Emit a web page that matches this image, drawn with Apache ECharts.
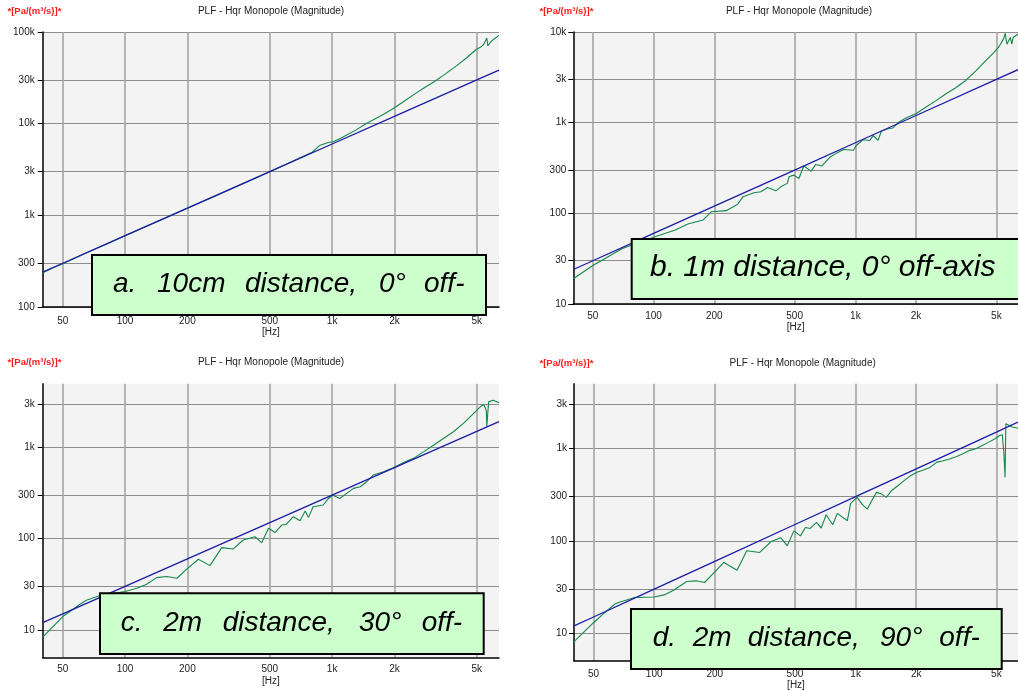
<!DOCTYPE html>
<html><head><meta charset="utf-8">
<script src="https://cdn.jsdelivr.net/npm/echarts@6/dist/echarts.min.js"></script>
<style>html,body{margin:0;padding:0;background:#fff}#c{width:1018px;height:691px}</style>
</head><body><div id="c"></div>
<script>
// ---------- data ----------
const xTickValues = [50, 100, 200, 500, 1000, 2000, 5000];
const xTickLabels = ['50', '100', '200', '500', '1k', '2k', '5k'];
const yTicksA = [100, 300, 1000, 3000, 10000, 30000, 100000];
const yLabelsA = ['100', '300', '1k', '3k', '10k', '30k', '100k'];
const yTicksB = [10, 30, 100, 300, 1000, 3000, 10000];
const yLabelsB = ['10', '30', '100', '300', '1k', '3k', '10k'];
const yTicksCD = [10, 30, 100, 300, 1000, 3000];
const yLabelsCD = ['10', '30', '100', '300', '1k', '3k'];

const blueFreq = [40, 50, 100, 200, 500, 1000, 2000, 5000, 6400];
const blueA = [240, 300, 600, 1200, 3000, 6000, 12000, 30000, 38400];
const blueB = [24, 30, 60, 120, 300, 600, 1200, 3000, 3840];
const blueC = [12, 15, 30, 60, 150, 300, 600, 1500, 1920];
const blueD = [12, 15, 30, 60, 150, 300, 600, 1500, 1920];

const freqA = [40,45,50,60,70,80,100,120,150,200,250,300,400,500,600,700,800,870,950,1010,1100,1200,1300,1470,1600,1800,2000,2200,2500,2800,3100,3500,4000,4500,4960,5200,5390,5480,5590,5650,5700,5900,6100,6400];
const greenA = [236,268,297,358,418,478,598,718,895,1195,1490,1790,2390,2980,3600,4250,4880,5770,6200,6360,6950,7700,8500,10100,11200,12900,14900,17200,21000,24800,28500,34500,43000,53000,64400,68000,72800,70000,86000,71000,74000,80000,85000,92000];

const freqB = [40,50,70,100,128,148,176,193,229,261,277,315,340,367,404,427,460,469,496,525,555,604,635,683,751,810,873,978,1013,1092,1180,1225,1297,1347,1452,1536,1654,1781,1995,2243,2513,2812,3149,3523,3945,4416,4852,5130,5430,5530,5640,5860,5965,6050,6400];
const greenB = [19,26.6,41,54.6,65.6,76.4,84.5,104,107,126,152,169,173,193,177,196,214,253,264,242,333,292,345,333,419,464,505,497,563,649,637,722,637,810,857,875,1025,1126,1253,1488,1751,2087,2426,2920,3694,4802,5924,6793,8393,9660,7340,8700,7340,8700,9500];

const freqC = [40,50,60.6,65,75.7,100,114,127,142,159,178,199,226,257,293,333,372,424,457,493,531,571,602,649,700,741,769,810,906,961,1010,1090,1176,1268,1366,1472,1584,1770,1980,2212,2472,2762,3086,3448,3853,4306,4643,5193,5390,5500,5560,5590,5700,6000,6400];
const greenC = [8.3,14,19.1,21.1,23.8,26.3,28.6,31.6,37.4,38.4,36.8,46.6,59.4,50.6,79.7,77.1,96.7,105,90.4,130,117,141,144,174,157,201,171,224,234,276,300,276,314,356,371,421,499,541,599,685,759,895,1058,1254,1487,1834,2163,2787,2955,2700,2500,1690,3160,3300,3100];

const freqD = [39.8,50,55.2,63.6,66.5,80,100,112,125,145,162,178,195,222,258,288,334,381,425,458,494,532,563,595,640,675,714,770,811,910,945,1018,1076,1142,1201,1271,1346,1420,1505,1620,1742,1875,2016,2171,2338,2520,2719,2926,3150,3390,3650,3930,4230,4555,4903,5193,5350,5450,5520,5570,6000,6400];
const greenD = [8,13,15.8,20.6,21.5,24.4,24.7,26,29.2,36.3,36.9,35.4,43.5,58.3,48.1,77.9,74.8,98.3,108,88.3,128,113,139,136,158,137,191,149,198,165,254,295,249,220,271,334,320,295,348,394,447,506,550,583,622,705,734,765,811,867,944,983,1068,1160,1262,1374,1406,870,485,1840,1700,1650];

const chartTitle = 'PLF - Hqr Monopole (Magnitude)';
const unitLabel = '*[Pa/(m³/s)]*';
const xName = '[Hz]';
const captionA = ['a.', '10cm', 'distance,', '0°', 'off-'];
const captionB = ['b. 1m distance, 0° off-axis'];
const captionC = ['c.', '2m', 'distance,', '30°', 'off-'];
const captionD = ['d.', '2m', 'distance,', '90°', 'off-'];

// ---------- layout ----------
const FONT = '"Liberation Sans", Arial, Helvetica, sans-serif';
const X_MIN = 40, X_MAX = 6400;
const panels = [
  { grid: {left: 42.7, top: 32, right: 519, bottom: 384}, yMin: 100, yMax: 100000, yT: yTicksA, yL: yLabelsA,
    xs: freqA, green: greenA, blue: blueA, xMargin: 9, yMargin: 8,
    unit: [7.5, 11.5], title: [271, 11.5],
    box: {x: 92, y: 255, w: 394, h: 60, cy: 284, fs: 28, words: captionA, wx: [113, 157, 245, 379, 424]} },
  { grid: {left: 573.3, top: 32, right: -5, bottom: 387}, yMin: 10, yMax: 10000, yT: yTicksB, yL: yLabelsB,
    xs: freqB, green: greenB, blue: blueB, xMargin: 7, yMargin: 7,
    unit: [539.5, 11.5], title: [799, 11.5],
    box: {x: 631.7, y: 239, w: 400, h: 60, cy: 267.5, fs: 30, words: captionB, wx: [650]} },
  { grid: {left: 42.7, top: 383.7, right: 519, bottom: 33.7}, yMin: 5, yMax: 5000, yT: yTicksCD, yL: yLabelsCD,
    xs: freqC, green: greenC, blue: blueC, xMargin: 7, yMargin: 8,
    unit: [7.5, 362.5], title: [271, 362.5],
    box: {x: 100, y: 593.3, w: 383.7, h: 60.7, cy: 623, fs: 28, words: captionC, wx: [120.7, 163.3, 222.7, 359, 421.7]} },
  { grid: {left: 574, top: 383.7, right: -12, bottom: 29.3}, yMin: 5, yMax: 5000, yT: yTicksCD, yL: yLabelsCD,
    xs: freqD, green: greenD, blue: blueD, xMargin: 8, yMargin: 7,
    unit: [539.5, 363.5], title: [802.7, 363.5],
    box: {x: 631, y: 609, w: 370.7, h: 60, cy: 638, fs: 28, words: captionD, wx: [652.7, 692.7, 747.7, 880, 939.3]} }
];

const lg = Math.log10;
function labelFor(ticks, labels) {
  return v => { const i = ticks.findIndex(t => Math.abs(lg(t) - v) < 1e-6); return i >= 0 ? labels[i] : ''; };
}

const grids = [], xAxes = [], yAxes = [], series = [], graphics = [];
panels.forEach((p, i) => {
  grids.push(Object.assign({show: true, backgroundColor: '#f3f3f3', borderWidth: 0, containLabel: false}, p.grid));
  // hidden log axes that carry the data
  xAxes.push({type: 'log', gridIndex: i, min: X_MIN, max: X_MAX, show: false, position: 'top'});
  yAxes.push({type: 'log', gridIndex: i, min: p.yMin, max: p.yMax, show: false, position: 'right'});
  // visible decorative axes (log10 space) for ticks / grid lines / labels
  xAxes.push({
    type: 'value', gridIndex: i, min: lg(X_MIN), max: lg(X_MAX), position: 'bottom',
    axisLine: {show: true, onZero: false, lineStyle: {color: '#000', width: 1.5}},
    axisTick: {show: false, customValues: xTickValues.map(lg)},
    axisLabel: {customValues: xTickValues.map(lg), formatter: labelFor(xTickValues, xTickLabels),
      margin: p.xMargin, fontFamily: FONT, fontSize: 10, color: '#222'},
    splitLine: {show: true, lineStyle: {color: '#a4a4a4', width: 1.6}},
    name: xName, nameLocation: 'middle', nameGap: 18.5,
    nameTextStyle: {fontFamily: FONT, fontSize: 10, color: '#222'}
  });
  yAxes.push({
    type: 'value', gridIndex: i, min: lg(p.yMin), max: lg(p.yMax), position: 'left',
    axisLine: {show: true, onZero: false, lineStyle: {color: '#000', width: 1.5}},
    axisTick: {show: true, length: 5, customValues: p.yT.map(lg), lineStyle: {color: '#000', width: 1}},
    axisLabel: {customValues: p.yT.map(lg), formatter: labelFor(p.yT, p.yL),
      margin: p.yMargin, fontFamily: FONT, fontSize: 10, color: '#222'},
    splitLine: {show: true, lineStyle: {color: '#8c8c8c', width: 1}}
  });
  series.push({
    type: 'line', name: 'monopole', xAxisIndex: 2 * i, yAxisIndex: 2 * i,
    data: blueFreq.map((f, k) => [f, p.blue[k]]),
    showSymbol: false, symbol: 'none', lineStyle: {color: '#1c1ca6', width: 1.3}, z: 3, animation: false
  });
  series.push({
    type: 'line', name: 'measured', xAxisIndex: 2 * i, yAxisIndex: 2 * i,
    data: p.xs.map((f, k) => [f, p.green[k]]),
    showSymbol: false, symbol: 'none', lineStyle: {color: '#13884a', width: 1.1}, z: 2, animation: false
  });
  graphics.push({type: 'text', x: p.unit[0], y: p.unit[1], z: 50,
    style: {text: unitLabel, font: 'bold 9.5px ' + FONT, fill: '#ff1a1a', align: 'left', verticalAlign: 'middle', textAlign: 'left', textVerticalAlign: 'middle'}});
  graphics.push({type: 'text', x: p.title[0], y: p.title[1], z: 50,
    style: {text: chartTitle, font: '10px ' + FONT, fill: '#222', align: 'center', verticalAlign: 'middle', textAlign: 'center', textVerticalAlign: 'middle'}});
  const b = p.box;
  graphics.push({type: 'rect', z: 100, shape: {x: b.x, y: b.y, width: b.w, height: b.h},
    style: {fill: '#ccffcc', stroke: '#000', lineWidth: 2}});
  b.words.forEach((w, k) => graphics.push({type: 'text', z: 101, x: b.wx[k], y: b.cy,
    style: {text: w, font: 'italic ' + b.fs + 'px ' + FONT, fill: '#000', align: 'left', verticalAlign: 'middle', textAlign: 'left', textVerticalAlign: 'middle'}}));
});

const chart = echarts.init(document.getElementById('c'), null, {renderer: 'canvas'});
chart.setOption({
  animation: false,
  backgroundColor: '#ffffff',
  grid: grids, xAxis: xAxes, yAxis: yAxes, series: series,
  graphic: {elements: graphics}
});
</script>
</body></html>
